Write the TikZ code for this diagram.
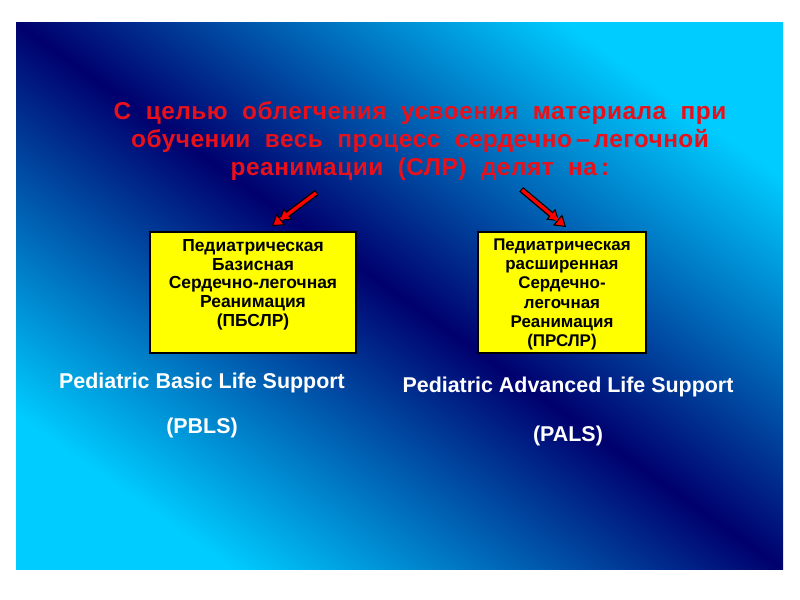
\documentclass[tikz,border=0pt]{standalone}
\usepackage{fontspec}
\setmainfont{Liberation Sans}
\usetikzlibrary{arrows.meta, positioning}

\definecolor{slidecyan}{RGB}{0,204,255}
\definecolor{slidenavy}{RGB}{0,0,110}
\definecolor{titlered}{RGB}{232,16,26}
\definecolor{boxyellow}{RGB}{255,255,0}

\begin{document}
\begin{tikzpicture}[
    x=1bp, y=-1bp,
    every node/.style={font=\bfseries},
    heading/.style={
        text=titlered,
        align=center,
        font=\fontsize{24.5}{28.5}\selectfont\bfseries\addfontfeatures{LetterSpace=2}
    },
    yellowbox/.style={
        rectangle,
        draw=black,
        line width=1.6bp,
        fill=boxyellow,
        inner sep=0pt
    },
    boxtext/.style={
        align=center,
        inner sep=0pt
    },
    caption/.style={
        text=white,
        font=\fontsize{21.5}{25}\selectfont\bfseries
    },
    pointer/.style={
        draw=red,
        line width=3.4bp,
        -{Triangle[length=11bp, width=14bp, color=black, fill=red, line width=1bp]},
        preaction={draw=black, line width=6bp, shorten >=9bp, shorten <=-1bp}
    }
]

% slide background
\useasboundingbox (0,0) rectangle (800,600);
\fill[white] (0,0) rectangle (800,600);
\shade[shading=axis, top color=slidecyan, bottom color=slidecyan,
    middle color=slidenavy, shading angle=-35.45] (16,23) rectangle (783,569);

\node (heading) [heading] at (420,141) {
С\ \ целью\ \ облегчения\ \ усвоения\ \ материала\ \ при\\
обучении\ \ весь\ \ процесс\ \ сердечно\,–\,легочной\\
реанимации\ \ (СЛР)\ \ делят\ \ на\,:
};

\node (pbslr) [yellowbox, minimum width=206bp, minimum height=121bp] at (253,292.5) {};
\node (pbslrtext) [boxtext, below=8bp of pbslr.north,
    font=\fontsize{17.5}{18.75}\selectfont\bfseries] {
Педиатрическая\\
Базисная\\
Сердечно-легочная\\
Реанимация\\
(ПБСЛР)
};

\node (prslr) [yellowbox, minimum width=168bp, minimum height=121bp] at (562,292.5) {};
\node (prslrtext) [boxtext, below=7bp of prslr.north,
    font=\fontsize{17}{19.4}\selectfont\bfseries] {
Педиатрическая\\
расширенная\\
Сердечно-\\
легочная\\
Реанимация\\
(ПРСЛР)
};

\coordinate (leftTail) at (316,193);
\coordinate (leftTip) at (272,226);
\coordinate (rightTail) at (522,190);
\coordinate (rightTip) at (566,227);

\draw [pointer] (leftTail) -- (leftTip);
\draw [pointer] (rightTail) -- (rightTip);

\node (pbls) [caption] at (202,383) {Pediatric Basic Life Support};
\node (pblsabbr) [caption] at (202,428) {(PBLS)};
\node (pals) [caption] at (568,387) {Pediatric Advanced Life Support};
\node (palsabbr) [caption] at (568,436) {(PALS)};

\end{tikzpicture}
\end{document}
